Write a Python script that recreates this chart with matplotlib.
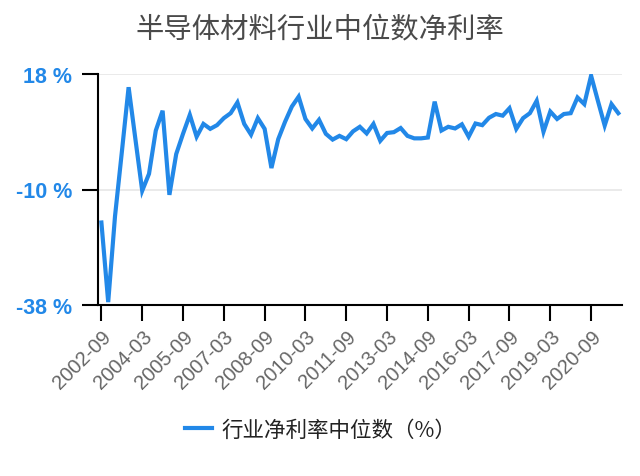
import matplotlib
matplotlib.use('Agg')
import matplotlib.pyplot as plt
import pandas as pd

plt.rcParams['font.family'] = ['Noto Sans CJK SC', 'DejaVu Sans']

# quarterly median net margin (%), 2002-09 .. 2021-09
values = [
    -18.0, -37.3, -16.5, -1.0, 14.8, 2.2, -10.3, -6.2, 4.3, 9.1,
    -11.3, -1.4, 3.5, 8.1, 2.8, 5.9, 4.7, 5.6, 7.3, 8.5,
    11.1, 5.9, 3.3, 7.3, 4.7, -4.8, 2.2, 6.4, 10.1, 12.5,
    7.1, 4.8, 6.9, 3.5, 2.1, 3.0, 2.2, 4.1, 5.2, 3.6,
    5.9, 1.8, 3.7, 3.9, 4.9, 3.0, 2.4, 2.4, 2.6, 11.3,
    4.3, 5.2, 4.8, 5.8, 2.8, 6.0, 5.6, 7.4, 8.3, 7.9,
    9.7, 4.7, 7.3, 8.5, 11.5, 4.0, 8.9, 7.1, 8.3, 8.5,
    12.3, 10.7, 17.6, 11.5, 5.5, 10.7, 8.5,
]
quarters = [p.strftime('%Y-%m') for p in pd.period_range('2002Q3', periods=len(values), freq='Q')]
y_ticks = [-38, -10, 18]

title = '半导体材料行业中位数净利率'
series_name = '行业净利率中位数（%）'

BLUE = '#2288e8'

fig = plt.figure(figsize=(6.4, 4.77), dpi=100)
ax = fig.add_axes([98 / 640, 1 - 306 / 477, (621.7 - 98) / 640, (306 - 75) / 477])

x = list(range(len(values)))
line, = ax.plot(x, values, color=BLUE, lw=3, solid_joinstyle='miter', zorder=3)

ax.set_xlim(-0.5, len(values) - 0.5)
ax.set_ylim(-38, 18)
ax.set_yticks(y_ticks)
ax.set_yticklabels([f'{v} %' for v in y_ticks], family='Liberation Sans',
                   fontsize=15.5, weight='bold', color=BLUE)
ax.grid(axis='y', color='#e8e8e8', lw=1.3, zorder=0)

tick_pos = x[::6]
ax.set_xticks(tick_pos)
ax.set_xticklabels([quarters[i] for i in tick_pos], rotation=45, ha='right',
                   rotation_mode='anchor', family='Liberation Sans',
                   fontsize=14.5, color='#666666')

for side in ['top', 'right']:
    ax.spines[side].set_visible(False)
for side in ['left', 'bottom']:
    ax.spines[side].set_linewidth(1.5)
    ax.spines[side].set_color('black')
ax.tick_params(axis='both', length=11.5, width=1.5, color='black')
ax.tick_params(axis='y', pad=7)
ax.tick_params(axis='x', pad=4)

fig.text(0.5, 1 - 29 / 477, title, ha='center', va='center',
         fontsize=20.4, color='#4a4a4a')

fig.legend([line], [series_name], loc='center',
           bbox_to_anchor=(321 / 640, 1 - 431 / 477), frameon=False,
           fontsize=15.5, handlelength=1.25, handletextpad=0.45,
           labelcolor='#222222')

fig.savefig('out.png', dpi=100)
